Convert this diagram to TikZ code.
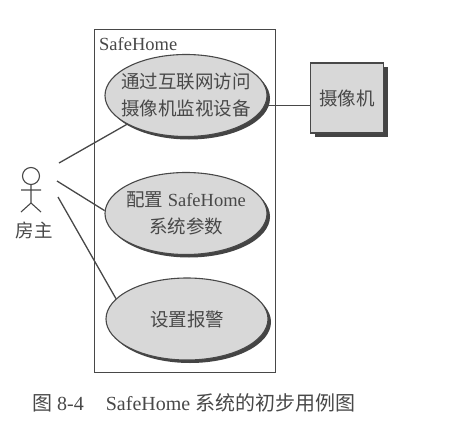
\documentclass[tikz,border=0pt]{standalone}
\usepackage{fontspec}
\setmainfont{Liberation Serif}
\newfontfamily\cjk{Noto Sans CJK SC}
\usetikzlibrary{shapes.geometric}
\definecolor{ink}{HTML}{484848}
\definecolor{fillg}{HTML}{D8D8D8}
\definecolor{shade}{HTML}{444444}
\tikzset{
  x=1pt,y=-1pt,
  line/.style={draw=ink,line width=1.3pt},
  thin line/.style={draw=ink,line width=1.1pt},
  usecase/.style={ellipse,draw=ink,line width=1.1pt,fill=fillg,minimum width=162pt,minimum height=82pt,inner sep=-30pt,align=center,text=ink,font=\fontsize{18.5}{27}\selectfont,
    preaction={draw=none,fill=shade,transform canvas={xshift=3pt,yshift=-3pt}}},
  devbox/.style={rectangle,draw=ink,line width=1.3pt,fill=fillg,minimum width=73pt,minimum height=70pt,inner sep=0pt,text=ink,font=\fontsize{18.5}{20}\selectfont,
    preaction={draw=none,fill=shade,transform canvas={xshift=4pt,yshift=-4pt}}},
  label/.style={inner sep=0pt,text=ink,font=\fontsize{18.5}{22}\selectfont},
}
\begin{document}
\begin{tikzpicture}
\useasboundingbox (0,0) rectangle (458,423);
\node[draw=ink,line width=1pt,minimum width=181pt,minimum height=343pt,inner sep=0pt] (frame) at (184.5,200.5) {};
\node[label,anchor=west] (title) at (99,44) {SafeHome};
\coordinate (a1) at (59,163);
\coordinate (a2) at (57,181);
\coordinate (a3) at (58,197);
\node[usecase] (uc1) at (186,95.5) {{\cjk 通过互联网访问}\\{\cjk 摄像机监视设备}};
\node[usecase] (uc2) at (186,213.5) {{\cjk 配置} SafeHome\\{\cjk 系统参数}};
\node[usecase] (uc3) at (187,319) {{\cjk 设置报警}};
\node[devbox] (cam) at (347,98) {\cjk 摄像机};
% actor
\node[circle,draw=ink,line width=1.1pt,minimum size=17pt,inner sep=0pt] (head) at (31,176) {};
\coordinate (hip) at (31,203);
\coordinate (armL) at (21,190);
\coordinate (armR) at (41,190);
\coordinate (legL) at (21,212);
\coordinate (legR) at (41,212);
\draw[thin line] (head) -- (hip) (armL) -- (armR) (legL) -- (hip) -- (legR);
\node[label] (actor) at (34.5,230) {\cjk 房主};
% connectors
\draw[line] (a1) -- (uc1.206);
\draw[line] (a2) -- (uc2.178);
\draw[line] (a3) -- (uc3.164);
\draw[line] (uc1.-7) -- (cam.west |- uc1.-7);
\node[label,anchor=west,font=\fontsize{20}{24}\selectfont] (cap) at (32,403) {{\cjk 图} 8-4\hspace{22pt}SafeHome {\cjk 系统的初步用例图}};
\end{tikzpicture}
\end{document}
